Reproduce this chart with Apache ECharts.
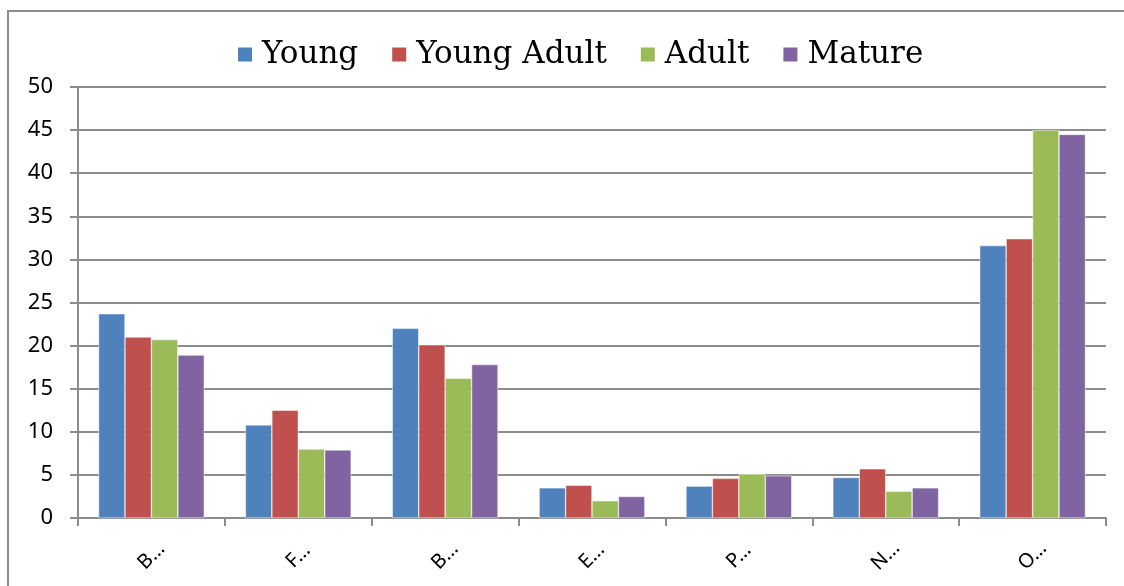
<!DOCTYPE html>
<html>
<head>
<meta charset="utf-8">
<script src="https://cdn.jsdelivr.net/npm/echarts@6/dist/echarts.min.js"></script>
<style>
    html, body { margin: 0; padding: 0; background: #fff; overflow: hidden; }
    #frame { position: absolute; left: 7px; top: 10px; width: 1140px; height: 600px; border: 2px solid #8c8c8c; box-sizing: border-box; }
    #chart { position: absolute; left: 0; top: 0; width: 1124px; height: 586px; }
</style>
</head>
<body>
<div id="frame"></div>
<div id="chart"></div>
<script>
    // 分类与数据
    const categories = ['B…', 'F…', 'B…', 'E…', 'P…', 'N…', 'O…'];
    const young = [23.7, 10.8, 22.0, 3.5, 3.7, 4.7, 31.6];
    const youngAdult = [21.0, 12.5, 20.1, 3.8, 4.6, 5.7, 32.4];
    const adult = [20.7, 8.0, 16.2, 2.0, 5.1, 3.1, 45.0];
    const mature = [18.9, 7.9, 17.8, 2.5, 4.9, 3.5, 44.5];
    const seriesNames = ['Young', 'Young Adult', 'Adult', 'Mature'];
    const colors = ['#4f81bd', '#c0504d', '#9bbb59', '#8064a2'];

    const axisGray = '#8c8c8c';

    let chart = echarts.init(document.getElementById('chart'));

    let option = {
        animation: false,
        color: colors,
        legend: {
            left: 231,
            top: 34,
            itemWidth: 16,
            itemHeight: 16,
            itemGap: 32,
            icon: 'rect',
            textStyle: {
                fontFamily: 'DejaVu Serif',
                fontSize: 31,
                color: '#000',
                padding: [0, 0, 0, 4]
            },
            data: seriesNames
        },
        grid: {
            left: 78,
            right: 18,
            top: 87,
            bottom: 68
        },
        xAxis: {
            type: 'category',
            data: categories,
            axisLine: { lineStyle: { color: axisGray, width: 2 } },
            axisTick: { show: true, length: 8, lineStyle: { color: axisGray, width: 2 } },
            axisLabel: {
                rotate: 45,
                margin: 38,
                align: 'center',
                verticalAlign: 'middle',
                fontFamily: 'Noto Sans',
                fontSize: 20,
                color: '#000'
            }
        },
        yAxis: {
            type: 'value',
            min: 0,
            max: 50,
            interval: 5,
            axisLine: { show: true, lineStyle: { color: axisGray, width: 2 } },
            axisTick: { show: true, length: 8, lineStyle: { color: axisGray, width: 2 } },
            splitLine: { lineStyle: { color: axisGray, width: 2 } },
            axisLabel: {
                margin: 25,
                fontFamily: 'Noto Sans',
                fontSize: 22,
                color: '#000'
            }
        },
        series: [
            { name: 'Young', type: 'bar', data: young },
            { name: 'Young Adult', type: 'bar', data: youngAdult },
            { name: 'Adult', type: 'bar', data: adult },
            { name: 'Mature', type: 'bar', data: mature }
        ].map(s => Object.assign(s, {
            barGap: '0%',
            barCategoryGap: '28%',
            itemStyle: { borderColor: '#fff', borderWidth: 0.5 }
        }))
    };

    chart.setOption(option);
</script>
</body>
</html>
